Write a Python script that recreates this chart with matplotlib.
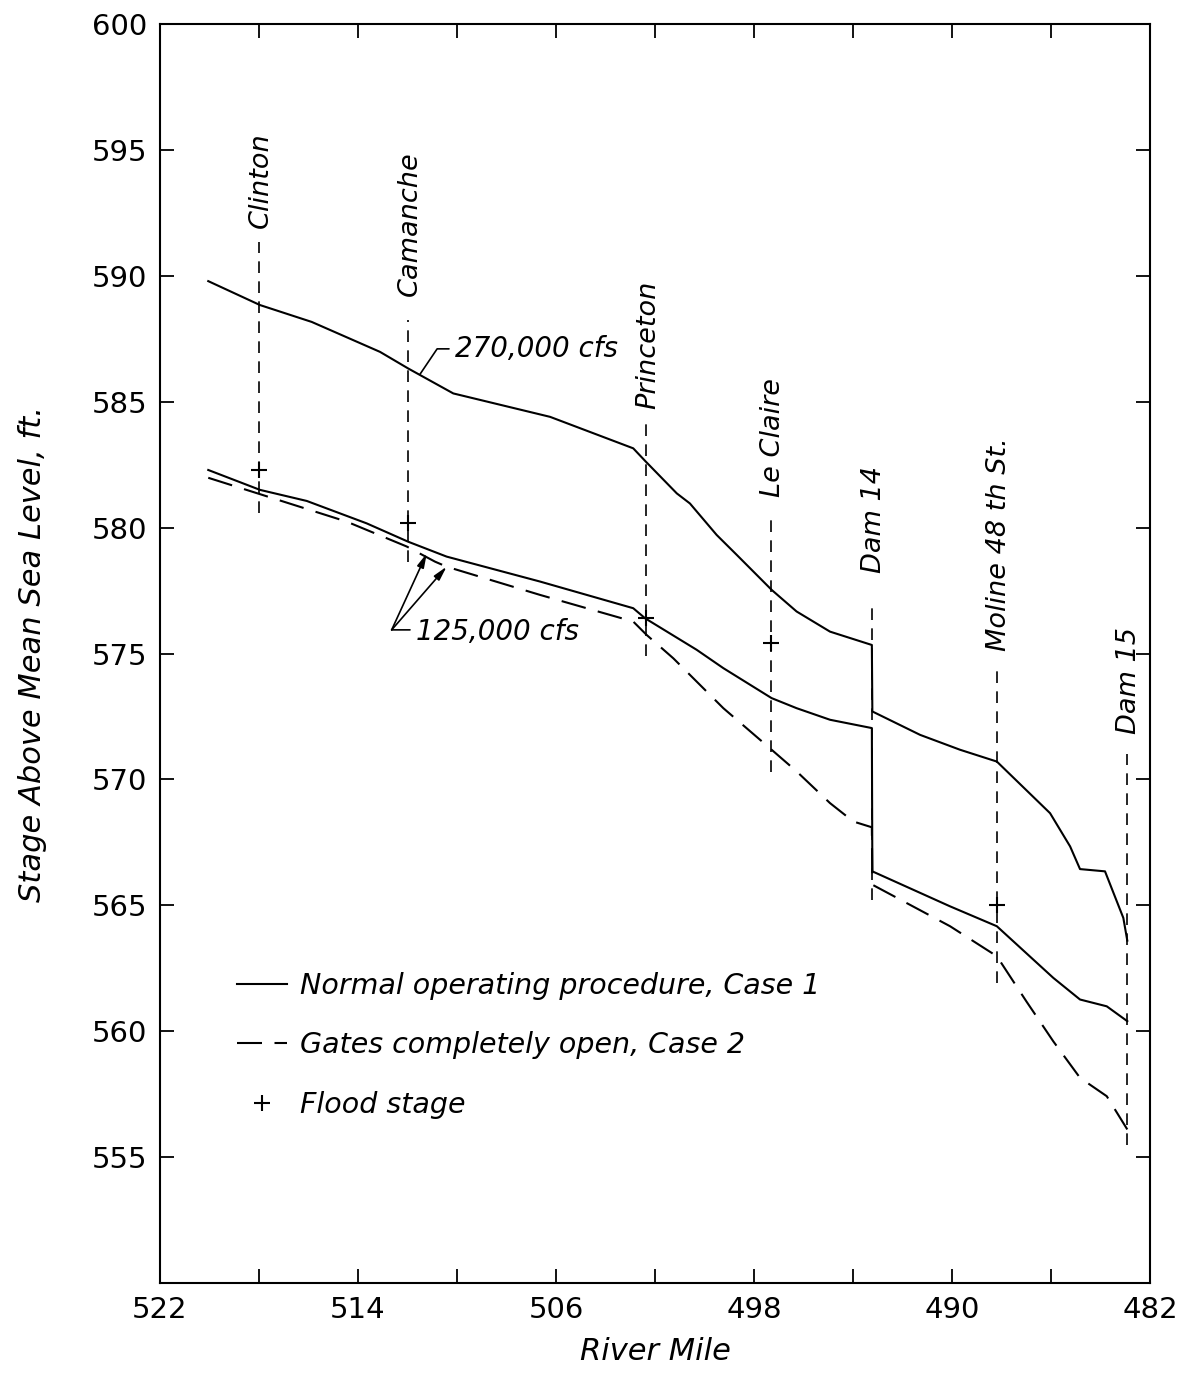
import matplotlib
matplotlib.use("Agg")
import matplotlib.pyplot as plt

plt.rcParams['font.family'] = ['DejaVu Sans']

# ---------------- data ----------------
# 270,000 cfs, normal operating procedure (Case 1)
upper_mile = [520.05, 517.96, 515.87, 513.11, 511.97, 510.15, 506.24, 502.88, 502.40,
              501.12, 500.59, 499.51, 498.70, 497.29, 496.28, 494.93, 493.24, 493.22,
              491.29, 489.68, 488.19, 486.04, 485.23, 484.83, 483.82, 483.08, 482.92]
upper_stage = [589.79, 588.84, 588.17, 586.98, 586.32, 585.33, 584.40, 583.15, 582.65,
               581.36, 580.96, 579.71, 578.92, 577.53, 576.67, 575.87, 575.34, 572.70,
               571.77, 571.18, 570.71, 568.66, 567.34, 566.44, 566.35, 564.50, 563.60]

# 125,000 cfs, normal operating procedure (Case 1)
low1_mile = [520.05, 517.96, 516.07, 513.65, 511.97, 510.42, 506.65, 502.88, 502.40,
             500.32, 499.24, 497.29, 496.28, 494.93, 493.24, 493.22, 490.08, 488.19,
             485.91, 484.83, 483.75, 482.92]
low1_stage = [582.29, 581.50, 581.06, 580.17, 579.44, 578.85, 577.86, 576.80, 576.40,
              575.15, 574.42, 573.23, 572.83, 572.37, 572.04, 566.35, 564.96, 564.17,
              562.12, 561.26, 560.99, 560.40]

# 125,000 cfs, gates completely open (Case 2)
low2_mile = [520.05, 517.96, 514.46, 512.03, 510.89, 510.42, 506.65, 502.88, 502.34,
             501.26, 499.24, 497.29, 496.28, 494.93, 493.99, 493.24, 493.22, 490.08,
             488.19, 487.00, 485.91, 484.83, 483.75, 482.92]
low2_stage = [581.98, 581.33, 580.24, 579.25, 578.65, 578.45, 577.33, 576.27, 575.74,
              574.81, 572.83, 571.18, 570.32, 569.06, 568.33, 568.10, 565.82, 564.17,
              562.98, 561.19, 559.60, 558.15, 557.42, 556.10]

# flood stage
flood_mile = [518.0, 512.0, 502.35, 497.3, 488.2]
flood_stage = [582.30, 580.17, 576.40, 575.41, 565.03]

# stations
stations = ["Clinton", "Camanche", "Princeton", "Le Claire", "Dam 14",
            "Moline 48 th St.", "Dam 15"]
station_mile = [518.0, 512.0, 502.35, 497.3, 493.22, 488.2, 482.92]
station_top = [591.35, 588.25, 584.20, 580.30, 576.87, 574.60, 571.00]
station_bottom = [580.60, 578.65, 574.90, 570.30, 565.20, 561.90, 555.50]
station_label_base = [591.90, 589.20, 584.70, 581.20, 578.20, 575.10, 571.80]

x_major = [522, 514, 506, 498, 490, 482]
x_minor = [518, 510, 502, 494, 486]
y_ticks = [555, 560, 565, 570, 575, 580, 585, 590, 595, 600]

# ---------------- figure ----------------
fig = plt.figure(figsize=(11.86, 13.74), dpi=100)
ax = fig.add_axes([0.1349, 0.0662, 0.8348, 0.9163])

ax.set_xlim(522, 482)
ax.set_ylim(550, 600)

for s in ax.spines.values():
    s.set_linewidth(1.5)

ax.set_xticks(x_major)
ax.set_xticklabels([str(v) for v in x_major])
ax.set_xticks(x_minor, minor=True)
ax.set_yticks(y_ticks)
ax.set_yticklabels([str(v) for v in y_ticks])
ax.tick_params(which='both', direction='in', length=10, width=1.3,
               top=True, right=True, labelsize=21, pad=9)

lw = 1.5
l1, = ax.plot(upper_mile, upper_stage, color='black', lw=lw,
              label='Normal operating procedure, Case 1')
ax.plot(low1_mile, low1_stage, color='black', lw=lw)
l2, = ax.plot(low2_mile, low2_stage, color='black', lw=lw,
              dashes=(12, 6), label='Gates completely open, Case 2')
l3, = ax.plot(flood_mile, flood_stage, linestyle='none', marker='+',
              markersize=11, mew=1.5, color='black', label='Flood stage')

# station lines and labels
for name, m, top, bot, base in zip(stations, station_mile, station_top,
                                   station_bottom, station_label_base):
    ax.plot([m, m], [bot, top], color='black', lw=1.2, dashes=(7, 5))
    ax.text(m - 0.08, base, name, rotation=90, ha='center', va='bottom',
            fontsize=19.5, style='italic')

# annotations
ax.annotate('270,000 cfs', xy=(511.49, 586.10), xytext=(510.10, 587.10),
            ha='left', va='center', fontsize=20, style='italic',
            arrowprops=dict(arrowstyle='-', color='black', lw=1.2,
                            connectionstyle='angle,angleA=0,angleB=56,rad=0',
                            relpos=(0, 0.5), shrinkA=2, shrinkB=0))

ax.text(511.66, 575.85, '125,000 cfs', ha='left', va='center', fontsize=20,
        style='italic')
vertex = (512.64, 575.94)
for pt in [(511.22, 578.98), (510.42, 578.45)]:
    ax.annotate('', xy=pt, xytext=vertex,
                arrowprops=dict(arrowstyle='-|>,head_length=0.6,head_width=0.15',
                                color='black', lw=1.2, mutation_scale=14,
                                shrinkA=0, shrinkB=0))
ax.annotate('', xy=vertex, xytext=(511.90, 575.94),
            arrowprops=dict(arrowstyle='-', color='black', lw=1.2,
                            shrinkA=0, shrinkB=0))

ax.set_xlabel('River Mile', fontsize=22, style='italic', labelpad=10)
ax.set_ylabel('Stage Above Mean Sea Level, ft.', fontsize=22, style='italic',
              labelpad=32)

leg = ax.legend(handles=[l1, l2, l3], loc='upper left',
                bbox_to_anchor=(0.078, 0.247), frameon=False, fontsize=20.5,
                handlelength=1.75, handletextpad=0.45, labelspacing=1.1,
                borderpad=0, borderaxespad=0)
for t in leg.get_texts():
    t.set_style('italic')

fig.savefig('out.png', dpi=100, facecolor='white')
